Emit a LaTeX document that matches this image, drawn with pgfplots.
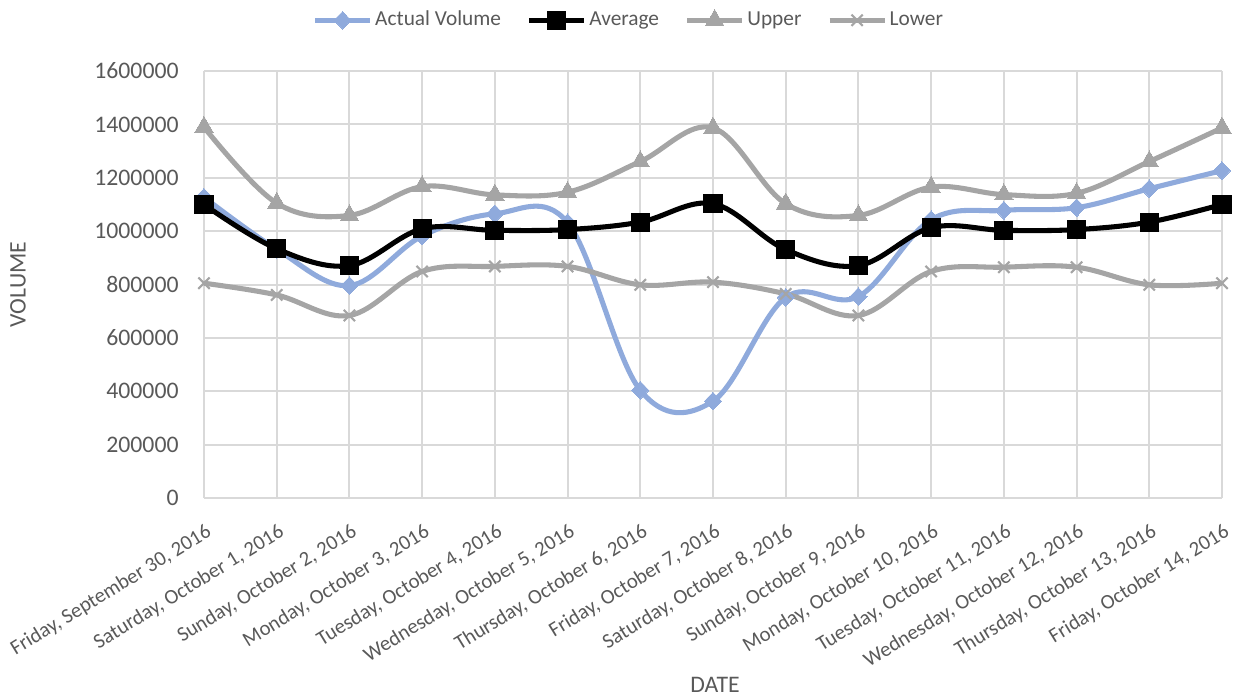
\documentclass[border=0pt]{standalone}
\usepackage{pgfplots}
\pgfplotsset{compat=1.18}
\usepackage{fontspec}
\setmainfont{Carlito}
\definecolor{actual}{HTML}{8FAADC}
\definecolor{band}{HTML}{A5A5A5}
\definecolor{gridc}{HTML}{D9D9D9}
\definecolor{txt}{HTML}{595959}
\begin{document}
\begin{tikzpicture}
\begin{axis}[
  scale only axis,
  width=381.75pt, height=160.1pt,
  xmin=0, xmax=14, ymin=0, ymax=1600000,
  clip=false,
  axis line style={draw=none},
  grid=major,
  major grid style={color=gridc, line width=0.75pt},
  major tick length=0pt,
  xtick={0,...,14},
  ytick={0,200000,...,1600000},
  scaled y ticks=false,
  /pgf/number format/assume math mode=true,
  yticklabel={\pgfmathprintnumber[fixed,precision=0,1000 sep={}]{\tick}},
  xticklabels={{Friday, September 30, 2016},{Saturday, October 1, 2016},{Sunday, October 2, 2016},{Monday, October 3, 2016},{Tuesday, October 4, 2016},{Wednesday, October 5, 2016},{Thursday, October 6, 2016},{Friday, October 7, 2016},{Saturday, October 8, 2016},{Sunday, October 9, 2016},{Monday, October 10, 2016},{Tuesday, October 11, 2016},{Wednesday, October 12, 2016},{Thursday, October 13, 2016},{Friday, October 14, 2016}},
  tick label style={text=txt},
  x tick label style={font=\fontsize{7.8}{9}\selectfont, rotate=31.5, anchor=north east, inner sep=0pt, xshift=-4.4pt, yshift=-7.9pt},
  y tick label style={font=\fontsize{8.9}{10}\selectfont, xshift=-6pt},
  xlabel={DATE}, ylabel={VOLUME},
  label style={font=\fontsize{8.9}{10}\selectfont, text=txt},
  xlabel style={at={(axis description cs:0.502,0)}, anchor=center, yshift=-70pt},
  ylabel style={at={(axis description cs:0,0.5)}, anchor=center, yshift=69.75pt},
  legend columns=4,
  legend style={draw=none, fill=none, font=\fontsize{8}{10}\selectfont, text=txt,
    at={(axis description cs:0.4176,1.119)}, anchor=center,
    /tikz/every even column/.append style={column sep=8.6pt},
    nodes={inner sep=1pt},
    inner sep=0pt, outer sep=0pt},
  legend image code/.code={\draw[mark repeat=2,mark phase=2] plot coordinates {(0pt,0pt)(10.3pt,0pt)(20.6pt,0pt)};},
  every axis plot/.append style={line width=1.9pt, smooth, tension=0.6},
]
\addplot[color=actual, mark=diamond*, mark size=3.3pt, mark options={xscale=1.3, line width=0pt}] coordinates {
(0,1127000)(1,932000)(2,796000)(3,982000)(4,1065000)(5,1032000)(6,404000)(7,363000)(8,752000)(9,755000)(10,1043000)(11,1078000)(12,1088000)(13,1159000)(14,1227000)};
\addlegendentry{Actual Volume}
\addplot[color=black, mark=square*, mark size=3.4pt, mark options={line width=0pt}] coordinates {
(0,1100000)(1,934000)(2,871000)(3,1009000)(4,1003000)(5,1006000)(6,1034000)(7,1103000)(8,931000)(9,871000)(10,1013000)(11,1003000)(12,1006000)(13,1034000)(14,1100000)};
\addlegendentry{Average}
\addplot[color=band, mark=triangle*, mark size=4pt, mark options={line width=0pt}] coordinates {
(0,1390000)(1,1105000)(2,1059000)(3,1167000)(4,1136000)(5,1146000)(6,1261000)(7,1387000)(8,1103000)(9,1059000)(10,1165000)(11,1137000)(12,1142000)(13,1261000)(14,1387000)};
\addlegendentry{Upper}
\addplot[color=band, mark=x, mark size=3pt, mark options={line width=0.8pt}] coordinates {
(0,805000)(1,761000)(2,684000)(3,849000)(4,868000)(5,868000)(6,799000)(7,809000)(8,765000)(9,684000)(10,849000)(11,865000)(12,865000)(13,799000)(14,805000)};
\addlegendentry{Lower}
\end{axis}
\pgfresetboundingbox
\useasboundingbox (-76.5pt,-75.75pt) rectangle (388.875pt,186.75pt);
\end{tikzpicture}
\end{document}
